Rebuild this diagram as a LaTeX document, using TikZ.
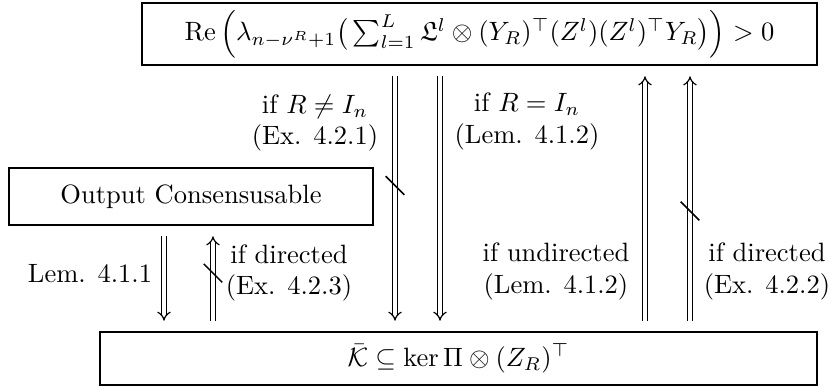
\documentclass[tikz,border=0pt]{standalone}
\usepackage{amsmath,amssymb}
\usetikzlibrary{arrows.meta,decorations.markings}
\begin{document}
\begin{tikzpicture}[x=0.37736pt,y=-0.37736pt,
  boxnode/.style={draw,line width=0.5pt,inner sep=0pt,anchor=center},
  lab/.style={align=center,anchor=center,inner sep=0pt},
  imp/.style={double,double distance=1.3pt,line width=0.45pt,-{Implies[scale=1.3]},shorten <=4pt,shorten >=4pt},
  slashat/.style={decoration={markings,mark=at position #1 with {\draw[line width=0.55pt] (-3.5pt,-3.5pt) -- (3.5pt,3.5pt);}},decorate}
]
\useasboundingbox (0,0) rectangle (834,389);
\node[boxnode,minimum width=254.7pt,minimum height=23.4pt] (top) at (479.5,34)
  {$\operatorname{Re}\left(\lambda_{n-\nu^R+1}\big(\textstyle\sum_{l=1}^L \mathfrak{L}^l \otimes (Y_R)^\top (Z^l)(Z^l)^\top Y_R\big)\right) > 0$};
\node[boxnode,minimum width=137.4pt,minimum height=21.5pt] (out) at (191,196.5) {Output Consensusable};
\node[boxnode,minimum width=270.6pt,minimum height=20pt] (bot) at (458.5,358.5)
  {$\bar{\mathcal{K}} \subseteq \ker \Pi \otimes (Z_R)^\top$};

\coordinate (c1) at (395,0);
\coordinate (c2) at (440,0);
\coordinate (c3) at (645,0);
\coordinate (c4) at (690,0);
\coordinate (c5) at (164,0);
\coordinate (c6) at (213,0);

\draw[imp] (top.south -| c1) -- (bot.north -| c1);
\path[slashat=0.451] (top.south -| c1) -- (bot.north -| c1);
\draw[imp] (top.south -| c2) -- (bot.north -| c2);
\draw[imp] (bot.north -| c3) -- (top.south -| c3);
\draw[imp] (bot.north -| c4) -- (top.south -| c4);
\path[slashat=0.453] (bot.north -| c4) -- (top.south -| c4);
\draw[imp] (out.south -| c5) -- (bot.north -| c5);
\draw[imp] (bot.north -| c6) -- (out.south -| c6);
\path[slashat=0.551] (bot.north -| c6) -- (out.south -| c6);

\node[lab] (l1) at (315,123) {if $R\neq I_n$\\(Ex. 4.2.1)};
\node[lab] (l2) at (527,121.5) {if $R=I_n$\\(Lem. 4.1.2)};
\node[lab] (l3) at (556,271.5) {if undirected\\(Lem. 4.1.2)};
\node[lab] (l4) at (767,271.5) {if directed\\(Ex. 4.2.2)};
\node[lab] (l5) at (90,274) {Lem. 4.1.1};
\node[lab] (l6) at (289,273) {if directed\\(Ex. 4.2.3)};
\end{tikzpicture}
\end{document}
